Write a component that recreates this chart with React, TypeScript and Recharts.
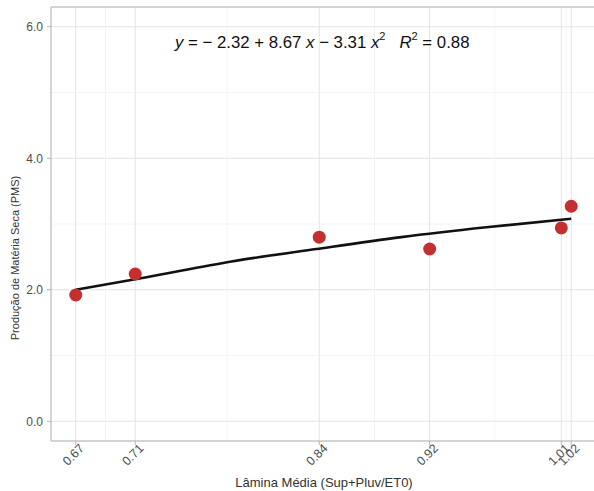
import React from "react";
import {
  ComposedChart, Scatter, Line, XAxis, YAxis, CartesianGrid, ReferenceLine,
} from "recharts";

// observed points (Lâmina Média vs PMS)
const laminas = [0.67, 0.712, 0.842, 0.92, 1.013, 1.02];
const pms = [1.92, 2.24, 2.8, 2.62, 2.94, 3.27];

// fitted curve
const curveX = [0.67, 0.72, 0.78, 0.84, 0.9, 0.96, 1.02];
const curveY = [2.0, 2.19, 2.43, 2.62, 2.8, 2.95, 3.08];

const yTicks = [0, 2, 4, 6];
const yMinor = [1, 3, 5];
const xMinor = [0.691, 0.777, 0.881, 0.966, 1.0165];

const points = laminas.map((x, i) => ({ x, y: pms[i] }));
const curve = curveX.map((x, i) => ({ x, y: curveY[i] }));

const font = "'Liberation Sans', Arial, sans-serif";

function XTick(props: any) {
  const { x, y, payload } = props;
  return (
    <g transform={`translate(${x},${y})`}>
      <text x={0} y={0} dx={5} dy={8} textAnchor="end" transform="rotate(-45)"
        fill="#4d4d4d" fontSize={12.5} fontFamily={font}>
        {Number(payload.value).toFixed(2)}
      </text>
    </g>
  );
}

export default function App() {
  return (
    <div style={{ position: "fixed", left: 0, top: 0, width: 700, height: 491, overflow: "hidden", background: "#fff", fontFamily: font }}>
      <ComposedChart width={640} height={491} margin={{ top: 7, right: 44, bottom: 0, left: 0 }}>
        <CartesianGrid stroke="#e3e3e3" strokeWidth={1} vertical={false} />
        {laminas.map((v) => (
          <ReferenceLine key={"xg" + v} x={v} stroke="#e3e3e3" strokeWidth={1} />
        ))}
        {yMinor.map((v) => (
          <ReferenceLine key={"ym" + v} y={v} stroke="#f1f1f1" strokeWidth={0.8} />
        ))}
        {xMinor.map((v) => (
          <ReferenceLine key={"xm" + v} x={v} stroke="#f1f1f1" strokeWidth={0.8} />
        ))}
        {/* panel border: right side falls outside the crop */}
        <ReferenceLine y={6.3} stroke="#b8b8b8" strokeWidth={1.2} />
        <ReferenceLine y={-0.3} stroke="#b8b8b8" strokeWidth={1.2} />
        <ReferenceLine x={0.6525} stroke="#b8b8b8" strokeWidth={1.2} />
        <XAxis type="number" dataKey="x" domain={[0.6525, 1.0375]} ticks={laminas}
          allowDataOverflow height={50} axisLine={false} tickSize={4}
          tickLine={{ stroke: "#b3b3b3" }} tick={<XTick />} interval={0} />
        <YAxis type="number" dataKey="y" domain={[-0.3, 6.3]} ticks={yTicks}
          allowDataOverflow width={51} axisLine={false} tickSize={4} tickMargin={4}
          tickLine={{ stroke: "#b3b3b3" }} tickFormatter={(v: number) => v.toFixed(1)}
          tick={{ fill: "#4d4d4d", fontSize: 12, fontFamily: font }} />
        <Line data={curve} dataKey="y" type="monotone" stroke="#111" strokeWidth={2.6}
          dot={false} isAnimationActive={false} />
        <Scatter data={points} dataKey="y" fill="#c4302f" isAnimationActive={false}
          shape={(p: any) => <circle cx={p.cx} cy={p.cy} r={6.5} fill="#c4302f" />} />
      </ComposedChart>

      <div style={{ position: "absolute", left: 175, top: 33, fontSize: 16.8, lineHeight: "19px", color: "#111", whiteSpace: "nowrap" }}>
        <i>y</i> = − 2.32 + 8.67 <i>x</i> − 3.31 <i>x</i>
        <span style={{ fontSize: 11, position: "relative", top: -8 }}>2</span>
        &nbsp;&nbsp; <i>R</i>
        <span style={{ fontSize: 11, position: "relative", top: -8 }}>2</span> = 0.88
      </div>

      <div style={{ position: "absolute", left: 324, top: 482, transform: "translate(-50%, -50%)", fontSize: 13, color: "#333", whiteSpace: "nowrap" }}>
        Lâmina Média (Sup+Pluv/ET0)
      </div>

      <div style={{ position: "absolute", left: 15, top: 258, transform: "translate(-50%, -50%) rotate(-90deg)", fontSize: 11, color: "#333", whiteSpace: "nowrap" }}>
        Produção de Matéria Seca (PMS)
      </div>
    </div>
  );
}
